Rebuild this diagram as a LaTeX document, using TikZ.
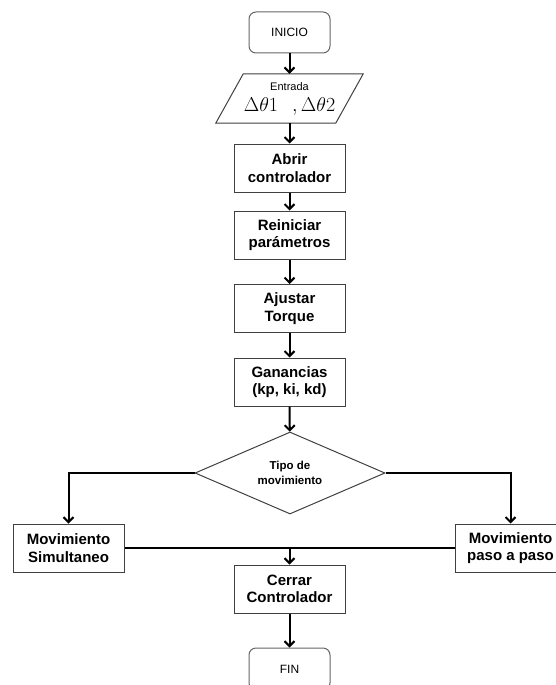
\RequirePackage{fix-cm}
\documentclass[tikz,border=0pt]{standalone}
\usepackage{fontspec}
\setmainfont{Liberation Sans}
\usetikzlibrary{arrows.meta,shapes.geometric,calc}

\tikzset{
  terminal/.style={draw=black!60, line width=1pt, rounded corners=7pt,
    minimum width=81pt, minimum height=41pt, inner sep=0pt,
    font=\fontsize{12}{14}\selectfont},
  procbox/.style={draw=black!75, line width=1pt, fill=white,
    minimum width=111pt, minimum height=48pt, inner sep=0pt, align=center,
    font=\bfseries\fontsize{15}{17.5}\selectfont},
  decision/.style={draw=black!75, line width=1pt, diamond, aspect=2.3,
    minimum width=190pt, minimum height=82pt, inner sep=0pt, align=center,
    font=\bfseries\fontsize{11.5}{15}\selectfont},
  inputbox/.style={minimum width=93pt, minimum height=49pt, inner sep=0pt,
    align=center, font=\fontsize{20}{21}\selectfont},
  flow/.style={line width=2pt, black},
  arr/.style={flow, -{Straight Barb[length=5pt,width=10pt]}}
}

\begin{document}
\begin{tikzpicture}[x=1pt,y=-1pt]
  \useasboundingbox (0,0) rectangle (556,685);

  % terminals and process steps
  \node[terminal] (inicio) at (289.5,32.5) {INICIO};

  \node[inputbox] (entrada) at (289.5,98.5)
    {{\fontsize{11}{12}\selectfont Entrada}\\
     $\Delta\theta1\hspace{14pt},\Delta\theta2$};
  \draw[draw=black!75, line width=1pt]
    ($(entrada.north)+(-46.25,0)$) -- ($(entrada.north)+(73.75,0)$) --
    ($(entrada.south)+(46.25,0)$) -- ($(entrada.south)+(-73.75,0)$) -- cycle;

  \node[procbox] (abrir)     at (289.5,168)   {Abrir\\controlador};
  \node[procbox] (reiniciar) at (289.5,235)   {Reiniciar\\parámetros};
  \node[procbox] (ajustar)   at (289.5,308.5) {Ajustar\\Torque};
  \node[procbox] (ganancias) at (289.5,382)   {Ganancias\\(kp, ki, kd)};

  \node[decision] (tipo) at (290,473) {Tipo de\\movimiento};

  \node[procbox] (ms) at (68.5,548)  {Movimiento\\Simultaneo};
  \node[procbox] (mp) at (510.5,548) {Movimiento\\paso a paso};

  \node[procbox] (cerrar) at (289.5,589) {Cerrar\\Controlador};
  \node[terminal, minimum height=42pt] (fin) at (289.5,669) {FIN};

  % connectors
  \draw[arr] (inicio) -- (entrada);
  \draw[arr] (entrada) -- (abrir);
  \draw[arr] (abrir) -- (reiniciar);
  \draw[arr] (reiniciar) -- (ajustar);
  \draw[arr] (ajustar) -- (ganancias);
  \draw[arr] (ganancias) -- (tipo);
  \draw[arr] (tipo.west) -| (ms.north);
  \draw[arr] (tipo.east) -| (mp.north);
  \draw[flow] (ms.east) -- (mp.west);
  \coordinate (junta) at (ms.east -| cerrar.north);
  \draw[arr] (junta) -- (cerrar.north);
  \draw[arr] (cerrar) -- (fin);
\end{tikzpicture}
\end{document}
